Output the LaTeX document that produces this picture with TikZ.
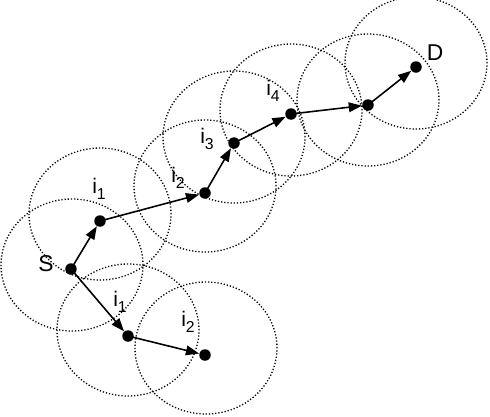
\documentclass[tikz,border=0pt]{standalone}
\usepackage{fontspec}
\setmainfont{Liberation Sans}
\usetikzlibrary{arrows.meta}
\newcommand{\isub}[1]{i\raisebox{-0.5ex}{\fontsize{9}{10}\selectfont #1}}
\begin{document}
\begin{tikzpicture}[x=0.02cm,y=-0.02cm,
  dotnode/.style={circle,fill=black,inner sep=0pt,minimum size=0.23cm},
  rangering/.style={draw=black,line width=0.75pt,dash pattern=on 0.7pt off 1.1pt},
  hop/.style={line width=0.9pt,-{Triangle[length=7.5pt,width=5.5pt]}},
  lbl/.style={inner sep=0pt,font=\fontsize{12}{14}\selectfont},
  biglbl/.style={inner sep=0pt,font=\fontsize{13}{15}\selectfont}]
\useasboundingbox (0,0) rectangle (490,416);
\clip (0,0) rectangle (490,416);
% range circles
\foreach \cx/\cy in {72/265,100/214,205/186,234/137,291/110,368/100,416/63,128/330,206/348}
  \draw[rangering] (\cx,\cy) ellipse [x radius=1.42cm, y radius=1.32cm];
% nodes
\node[dotnode] (S) at (71,269) {};
\node[dotnode] (a1) at (100,221) {};
\node[dotnode] (a2) at (205,193) {};
\node[dotnode] (a3) at (234,143) {};
\node[dotnode] (a4) at (291,114) {};
\node[dotnode] (a5) at (368,105) {};
\node[dotnode] (D) at (416,67) {};
\node[dotnode] (b1) at (128,336) {};
\node[dotnode] (b2) at (205,355) {};
% labels
\node[biglbl] (lS) at (46,264) {S};
\node[biglbl] (lD) at (435,53) {D};
\node[lbl] (la1) at (99,189) {\isub{1}};
\node[lbl] (la2) at (178,178) {\isub{2}};
\node[lbl] (la3) at (207,139) {\isub{3}};
\node[lbl] (la4) at (273,91) {\isub{4}};
\node[lbl] (lb1) at (120,302) {\isub{1}};
\node[lbl] (lb2) at (188,322) {\isub{2}};
% hops
\draw[hop] (S.center) -- (a1);
\draw[hop] (a1.center) -- (a2);
\draw[hop] (a2.center) -- (a3);
\draw[hop] (a3.center) -- (a4);
\draw[hop] (a4.center) -- (a5);
\draw[hop] (a5.center) -- (D);
\draw[hop] (S.center) -- (b1);
\draw[hop] (b1.center) -- (b2);
\end{tikzpicture}
\end{document}
